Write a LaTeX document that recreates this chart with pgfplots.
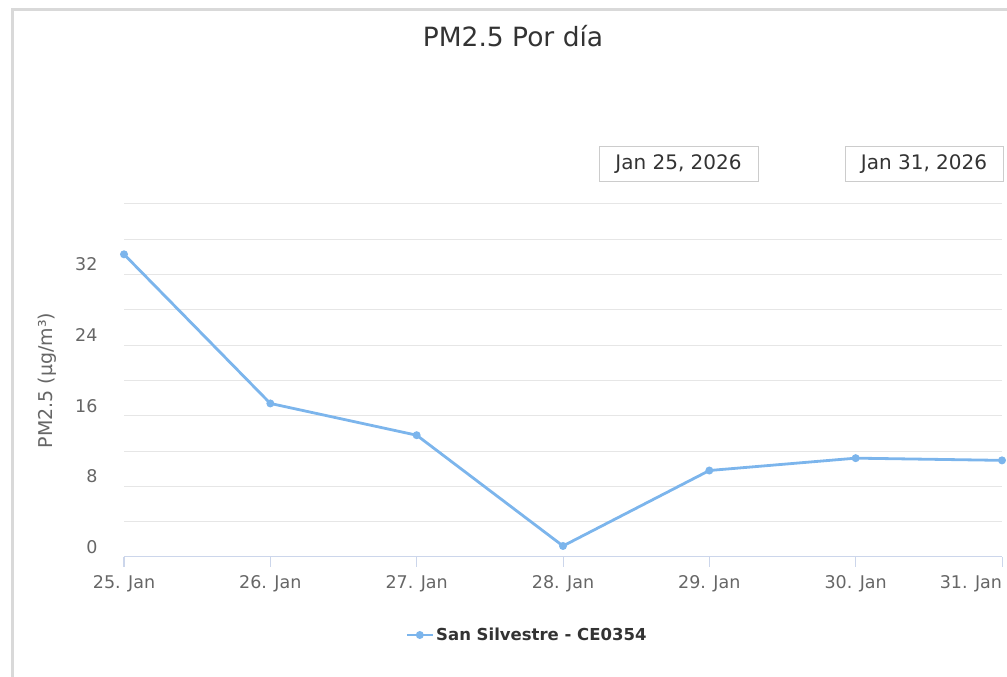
\documentclass[border=0pt]{standalone}
\usepackage{fontspec}
\setmainfont{DejaVu Sans}
\usepackage{pgfplots}
\pgfplotsset{compat=1.18}
\definecolor{hc}{HTML}{7CB5EC}
\definecolor{gridc}{HTML}{E6E6E6}
\definecolor{axl}{HTML}{CCD6EB}
\definecolor{lab}{HTML}{666666}
\definecolor{ttl}{HTML}{333333}
\begin{document}
\begin{tikzpicture}[x=1pt,y=1pt]
\useasboundingbox (0,0) rectangle (1007,677);
\coordinate (o) at (124,120);
\draw[draw=black!15, line width=3pt] (12,-5) -- (12,667) -- (1012,667);
\node[text=ttl, font=\fontsize{26.5}{30}\selectfont] at (513,641) {PM2.5 Por día};
\draw[draw=black!20, line width=1pt, fill=white] (599,495) rectangle (758,530);
\node[text=ttl, font=\fontsize{20}{24}\selectfont] at (678.5,512.5) {Jan 25, 2026};
\draw[draw=black!20, line width=1pt, fill=white] (845,495) rectangle (1003,530);
\node[text=ttl, font=\fontsize{20}{24}\selectfont] at (924,512.5) {Jan 31, 2026};
\begin{axis}[
  at={(o)}, anchor=south west, scale only axis,
  width=878pt, height=353pt,
  xmin=0, xmax=6, ymin=0, ymax=40,
  axis x line*=bottom, axis y line*=left,
  x axis line style={axl, line width=1pt},
  y axis line style={draw=none},
  xtick={0,...,6},
  xticklabels={25. Jan,26. Jan,27. Jan,28. Jan,29. Jan,30. Jan,\makebox[0pt][r]{31. Jan}},
  ytick={0,4,...,40},
  yticklabels={0,,8,,16,,24,,32,,},
  ymajorgrids,
  grid style={gridc, line width=1pt},
  tick align=outside,
  major tick length=10pt,
  x tick style={axl, line width=1pt},
  y tick style={draw=none},
  /pgf/number format/assume math mode=true,
  tick label style={font=\fontsize{17.5}{20}\selectfont, text=lab},
  yticklabel style={yshift=10pt, xshift=-13pt},
  xticklabel style={yshift=-5pt},
  ylabel={PM2.5 (μg/m³)},
  ylabel style={at={(axis description cs:-0.0877,0.5)}, anchor=center, font=\fontsize{19}{22}\selectfont, text=lab},
  clip=false,
  legend style={at={(axis description cs:0.459,-0.221)}, anchor=center, draw=none, fill=none,
    font=\bfseries\fontsize{16.5}{20}\selectfont, text=ttl},
  legend image code/.code={\draw[#1, mark repeat=2, mark phase=2] plot coordinates {(0pt,0pt) (13pt,0pt) (26pt,0pt)};},
]
\addplot[hc, line width=2.8pt, mark=*, mark size=2.5pt] coordinates {
 (0,34.3) (1,17.4) (2,13.8) (3,1.25) (4,9.8) (5,11.2) (6,10.95)
};
\addlegendentry{San Silvestre - CE0354}
\end{axis}
\end{tikzpicture}
\end{document}
